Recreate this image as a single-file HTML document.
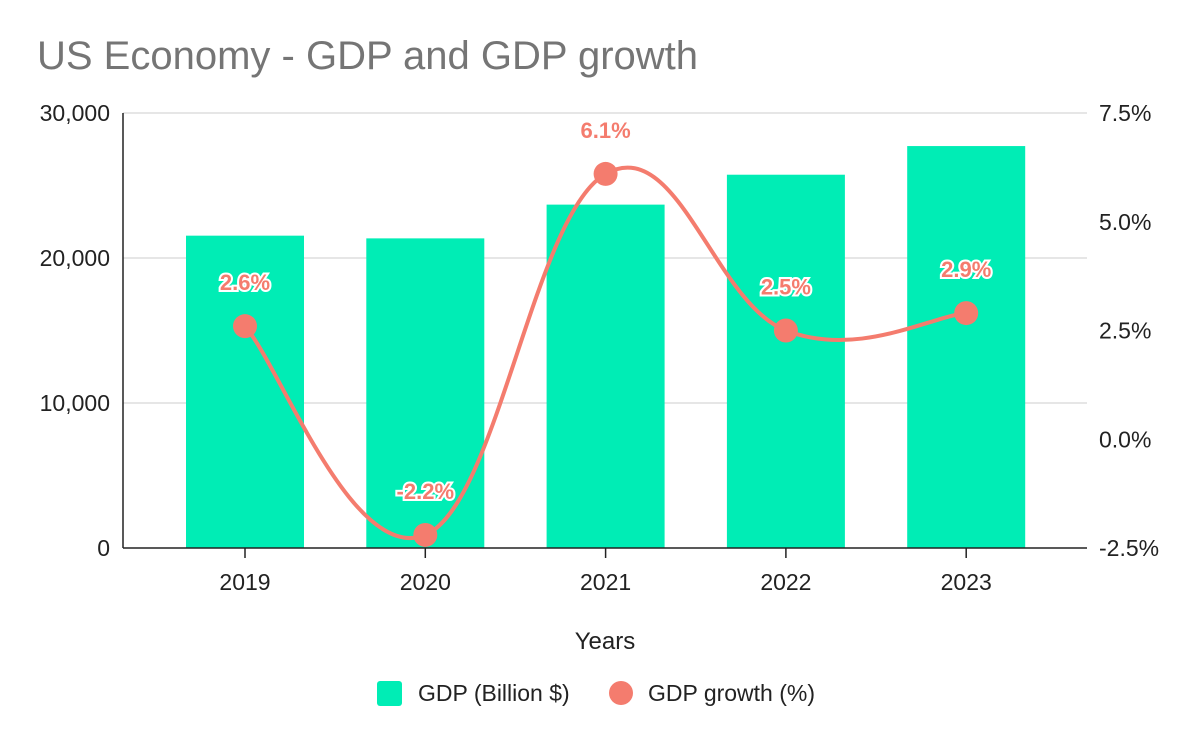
<!DOCTYPE html>
<html><head><meta charset="utf-8"><style>
body{margin:0;background:#fff;}
svg{display:block;font-family:"Liberation Sans",Arial,sans-serif;}
</style></head><body>
<svg id="chart" width="1200" height="742">
<rect width="1200" height="742" fill="#fff"/>
<text x="37" y="69" font-size="40" fill="#757575">US Economy - GDP and GDP growth</text>
<g id="grid"></g><g id="bars"></g><g id="line"></g><g id="axes"></g>
<text x="605" y="649" font-size="24" text-anchor="middle" fill="#222">Years</text>
<g>
<rect x="377" y="681" width="25" height="25" rx="3" fill="#00EDB5"/>
<text x="418" y="701" font-size="23" fill="#222">GDP (Billion $)</text>
<circle cx="621" cy="693" r="12" fill="#F47C6E"/>
<text x="648" y="701" font-size="23" fill="#222">GDP growth (%)</text>
</g>
</svg>
<script>
const categories=["2019","2020","2021","2022","2023"];
const gdpValues=[21540,21354,23681,25744,27720];
const growthValues=[2.6,-2.2,6.1,2.5,2.9];
const leftTicks=[0,10000,20000,30000];
const rightTicks=[-2.5,0,2.5,5,7.5];
const NS="http://www.w3.org/2000/svg";
const X0=123,X1=1087,Y0=548,Y1=113;
const yL=v=>Y0-(v/30000)*(Y0-Y1);
const yR=v=>Y0-((v+2.5)/10)*(Y0-Y1);
const step=180.3;
const xC=i=>245+step*i;
function mk(t,a,p){const e=document.createElementNS(NS,t);for(const k in a)e.setAttribute(k,a[k]);(p||document.getElementById('chart')).appendChild(e);return e;}
const g=document.getElementById('grid'),b=document.getElementById('bars'),l=document.getElementById('line'),ax=document.getElementById('axes');
leftTicks.forEach(v=>{
 if(v>0){const gl=mk('line',{x1:X0,x2:X1,y1:yL(v),y2:yL(v),stroke:'#ccc','stroke-width':1},g);
 
 }
 const t=mk('text',{x:110,y:yL(v)+8,'font-size':23,'text-anchor':'end',fill:'#222'},ax);t.textContent=v.toLocaleString('en-US');
 
 
});
rightTicks.forEach(v=>{
 const t=mk('text',{x:1099,y:yR(v)+8,'font-size':23,fill:'#222'},ax);t.textContent=v.toFixed(1)+'%';
 
 
});
categories.forEach((c,i)=>{
 const r=mk('rect',{x:xC(i)-59,y:yL(gdpValues[i]),width:118,height:Y0-yL(gdpValues[i]),fill:'#00EDB5'},b);
 
 
 const tk=mk('line',{x1:xC(i),x2:xC(i),y1:Y0,y2:Y0+10,stroke:'#222','stroke-width':1.5},ax);
 
 
 const t=mk('text',{x:xC(i),y:590,'font-size':23,'text-anchor':'middle',fill:'#222'},ax);t.textContent=c;
 
 
});
const ya=mk('line',{x1:X0,x2:X0,y1:Y1,y2:Y0,stroke:'#222','stroke-width':1.5},ax);


const xa=mk('line',{x1:X0,x2:X1,y1:Y0,y2:Y0,stroke:'#222','stroke-width':1.5},ax);


const pts=growthValues.map((v,i)=>[xC(i),yR(v)]);
let d='M'+pts[0][0]+','+pts[0][1];
for(let i=0;i<pts.length-1;i++){
 const p0=pts[Math.max(i-1,0)],p1=pts[i],p2=pts[i+1],p3=pts[Math.min(i+2,pts.length-1)];
 const k=1/5;
 d+=' C'+(p1[0]+(p2[0]-p0[0])*k)+','+(p1[1]+(p2[1]-p0[1])*k)+' '+(p2[0]-(p3[0]-p1[0])*k)+','+(p2[1]-(p3[1]-p1[1])*k)+' '+p2[0]+','+p2[1];
}
const path=mk('path',{d:d,fill:'none',stroke:'#F47C6E','stroke-width':4},l);


pts.forEach((p,i)=>{
 const c=mk('circle',{cx:p[0],cy:p[1],r:12,fill:'#F47C6E'},l);
 
 
 const t=mk('text',{x:p[0],y:p[1]-36,'font-size':22,'font-weight':'bold','text-anchor':'middle',fill:'#F47C6E',stroke:'#fff','stroke-width':4,'paint-order':'stroke'},l);
 t.textContent=growthValues[i].toFixed(1)+'%';
 
 
});
</script>
</body></html>
